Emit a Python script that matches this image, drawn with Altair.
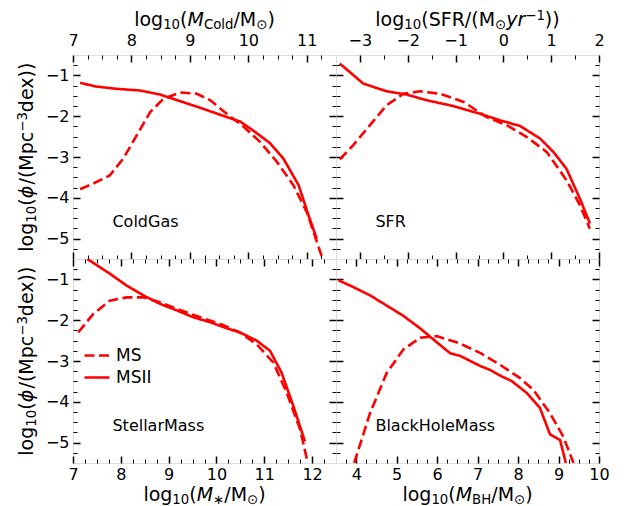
import numpy as np
import pandas as pd
import altair as alt

FONT = "DejaVu Sans"
RED = "#ff0000"
W, H = 263, 204
TITLE_FS = 19
TICK_FS = 16
SERIES = ["MS", "MSII"]

# ---------------- data ----------------
cold_ms_x = [7.12, 7.35, 7.63, 7.86, 8.09, 8.32, 8.55, 8.83, 9.12, 9.35, 9.63, 9.92, 10.2, 10.49, 10.77, 11.0, 11.26]
cold_ms_y = [-3.79, -3.65, -3.45, -3.04, -2.47, -1.90, -1.57, -1.42, -1.45, -1.61, -1.94, -2.26, -2.63, -3.12, -3.69, -4.35, -5.45]
cold_msii_x = [7.12, 7.38, 7.75, 8.15, 8.49, 8.83, 9.23, 9.63, 9.86, 10.12, 10.37, 10.6, 10.86, 11.03, 11.17]
cold_msii_y = [-1.18, -1.27, -1.33, -1.37, -1.47, -1.63, -1.82, -2.02, -2.13, -2.39, -2.66, -3.04, -3.69, -4.43, -5.0]

sfr_ms_x = [-3.42, -3.14, -2.79, -2.44, -2.09, -1.74, -1.32, -0.83, -0.35, 0.07, 0.49, 0.91, 1.32, 1.60, 1.81]
sfr_ms_y = [-3.06, -2.71, -2.22, -1.73, -1.45, -1.39, -1.45, -1.65, -2.02, -2.22, -2.51, -2.88, -3.57, -4.18, -4.76]
sfr_msii_x = [-3.42, -2.93, -2.44, -2.02, -1.60, -1.05, -0.49, -0.07, 0.35, 0.77, 1.05, 1.32, 1.60, 1.81]
sfr_msii_y = [-0.71, -1.20, -1.39, -1.47, -1.61, -1.75, -1.94, -2.10, -2.24, -2.55, -2.88, -3.29, -4.02, -4.63]

star_ms_x = [7.11, 7.42, 7.77, 8.12, 8.47, 8.82, 9.17, 9.66, 10.08, 10.49, 10.84, 11.19, 11.47, 11.75, 11.91]
star_ms_y = [-2.30, -1.85, -1.52, -1.44, -1.44, -1.56, -1.72, -1.93, -2.09, -2.30, -2.59, -3.04, -3.78, -4.68, -5.5]
star_msii_x = [7.30, 7.77, 8.12, 8.47, 8.82, 9.17, 9.52, 9.87, 10.22, 10.49, 10.84, 11.12, 11.36, 11.61, 11.85]
star_msii_y = [-0.5, -0.86, -1.15, -1.39, -1.60, -1.76, -1.93, -2.05, -2.20, -2.30, -2.50, -2.75, -3.28, -4.11, -4.97]

bh_ms_x = [3.95, 4.34, 4.75, 5.16, 5.58, 5.99, 6.56, 7.06, 7.55, 8.05, 8.38, 8.79, 9.12, 9.37]
bh_ms_y = [-5.5, -4.28, -3.30, -2.72, -2.43, -2.39, -2.57, -2.80, -3.09, -3.42, -3.71, -4.28, -4.86, -5.5]
bh_msii_x = [3.56, 3.93, 4.34, 4.75, 5.16, 5.58, 5.99, 6.32, 6.56, 7.06, 7.31, 7.60, 7.84, 8.21, 8.54, 8.79, 9.04, 9.18]
bh_msii_y = [-1.02, -1.19, -1.39, -1.64, -1.89, -2.20, -2.54, -2.81, -2.87, -3.12, -3.22, -3.38, -3.49, -3.78, -4.15, -4.80, -4.94, -5.5]

panel_names = ["ColdGas", "SFR", "StellarMass", "BlackHoleMass"]
x_domains = [[7, 11.5], [-3.5, 2], [7, 12.5], [3.5, 10]]
x_minor_steps = [0.25, 0.5, 0.25, 0.25]
y_domain = [-5.5, -0.5]
y_major = [-5, -4, -3, -2, -1]

# ---------------- text layout helpers ----------------
WID = {"l": .278, "o": .612, "g": .635, "0": .636, "1": .636, "3": .636, "(": .390, ")": .390,
       "/": .337, "M": .863, "C": .698, "d": .635, "S": .635, "F": .575, "R": .695, "y": .592,
       "r": .411, "B": .686, "H": .752, "p": .635, "c": .550, "e": .615, "x": .592,
       "\u2212": .838, "\u2299": .838, "\u2217": .838, "\u03d5": .73}

one = pd.DataFrame({"k": [0]})


def title_layers(segs, ax, ay, angle=0, size=TITLE_FS):
    items, off = [], 0.0
    for t, kind in segs:
        small = kind.startswith("sub") or kind.startswith("sup")
        fs = size * 0.7 if small else size
        items.append((t, kind, fs, off))
        off += sum(WID.get(c, .6) for c in t) * fs
    total = off
    out = []
    for t, kind, fs, o in items:
        dy = 0.16 * size if kind.startswith("sub") else (-0.3 * size if kind.startswith("sup") else 0)
        italic = kind.endswith("i")
        out.append(
            alt.Chart(one).mark_text(
                text=t, align="left", baseline="alphabetic", font=FONT, fontSize=fs,
                fontStyle="italic" if italic else "normal", color="black",
                dx=o - total / 2, dy=dy, angle=angle,
            ).encode(x=alt.value(ax), y=alt.value(ay))
        )
    return out


def minor(lo, hi, step):
    vals = np.round(np.arange(lo, hi + 1e-9, step), 4)
    return [float(v) for v in vals if abs(v - round(v)) > 1e-6 and lo < v < hi]


def axis(orient, values, size, width, labels=False, pad=0):
    kw = dict(orient=orient, values=values, tickSize=size, tickWidth=width, tickColor="black",
              offset=-size, domain=False, grid=False, labels=labels, ticks=True)
    if labels:
        kw.update(labelFontSize=TICK_FS, labelFont=FONT, labelColor="black", labelPadding=pad,
                  labelFlush=False, labelOverlap=False)
    return alt.Axis(**kw)


legend = alt.Legend(title=None, orient="none", legendX=10, legendY=286.5, symbolType="stroke",
                    symbolStrokeColor=RED, symbolStrokeWidth=2.6, symbolSize=625,
                    labelFontSize=17, labelFont=FONT, labelColor="black", labelOffset=5,
                    rowPadding=-4, padding=0)

Y_TITLE = [("log", "n"), ("10", "sub"), ("(", "n"), ("\u03d5", "i"), ("/(Mpc", "n"),
           ("\u22123", "sup"), ("dex))", "n")]
X_TITLES = [
    [("log", "n"), ("10", "sub"), ("(", "n"), ("M", "i"), ("Cold", "sub"), ("/M", "n"), ("\u2299", "sub"), (")", "n")],
    [("log", "n"), ("10", "sub"), ("(SFR/(M", "n"), ("\u2299", "sub"), ("yr", "i"), ("\u22121", "sup"), ("))", "n")],
    [("log", "n"), ("10", "sub"), ("(", "n"), ("M", "i"), ("\u2217", "sub"), ("/M", "n"), ("\u2299", "sub"), (")", "n")],
    [("log", "n"), ("10", "sub"), ("(", "n"), ("M", "i"), ("BH", "sub"), ("/M", "n"), ("\u2299", "sub"), (")", "n")],
]


def panel(idx, ms_x, ms_y, msii_x, msii_y):
    top = idx < 2
    left = idx % 2 == 0
    xdom = x_domains[idx]
    xmaj = list(range(int(np.ceil(xdom[0])), int(np.floor(xdom[1])) + 1))
    xmin = minor(xdom[0], xdom[1], x_minor_steps[idx])
    ymin = minor(y_domain[0], y_domain[1], 0.25)
    df = pd.concat([
        pd.DataFrame({"x": ms_x, "y": ms_y, "run": "MS", "i": range(len(ms_x))}),
        pd.DataFrame({"x": msii_x, "y": msii_y, "run": "MSII", "i": range(len(msii_x))}),
    ], ignore_index=True)
    xs = alt.Scale(domain=xdom, nice=False, zero=False)
    ys = alt.Scale(domain=y_domain, nice=False, zero=False)
    base = alt.Chart(df)
    lines = base.mark_line(clip=True, strokeWidth=2.6, color=RED).encode(
        x=alt.X("x:Q", scale=xs, title=None, axis=axis("bottom", xmaj, 7, 1.5, not top, 3)),
        y=alt.Y("y:Q", scale=ys, title=None, axis=axis("left", y_major, 7, 1.5, left, 4)),
        strokeDash=alt.StrokeDash("run:N", scale=alt.Scale(domain=SERIES, range=[[10, 4.5], [1, 0]]),
                                  legend=legend),
        order="i:Q",
    )
    l2 = base.mark_line(opacity=0, clip=True).encode(
        x=alt.X("x:Q", scale=xs, title=None, axis=axis("bottom", xmin, 4, 1)),
        y=alt.Y("y:Q", scale=ys, title=None, axis=axis("left", ymin, 4, 1)),
        detail="run:N",
    )
    l3 = base.mark_line(opacity=0, clip=True).encode(
        x=alt.X("x:Q", scale=xs, title=None, axis=axis("top", xmaj, 7, 1.5, top, 7)),
        y=alt.Y("y:Q", scale=ys, title=None, axis=axis("right", y_major, 7, 1.5)),
        detail="run:N",
    )
    l4 = base.mark_line(opacity=0, clip=True).encode(
        x=alt.X("x:Q", scale=xs, title=None, axis=axis("top", xmin, 4, 1)),
        y=alt.Y("y:Q", scale=ys, title=None, axis=axis("right", ymin, 4, 1)),
        detail="run:N",
    )
    label = alt.Chart(one).mark_text(
        text=panel_names[idx], align="left", baseline="middle", font=FONT, fontSize=16, color="black"
    ).encode(x=alt.value(0.15 * W), y=alt.value(0.82 * H))
    texts = [label]
    if top:
        texts += title_layers(X_TITLES[idx], W / 2, -29)
    else:
        texts += title_layers(X_TITLES[idx], W / 2, H + 38)
    if left:
        texts += title_layers(Y_TITLE, -40, H / 2, angle=270)
    return alt.layer(lines, l2, l3, l4, *texts).resolve_axis(
        x="independent", y="independent").properties(width=W, height=H)


p0 = panel(0, cold_ms_x, cold_ms_y, cold_msii_x, cold_msii_y)
p1 = panel(1, sfr_ms_x, sfr_ms_y, sfr_msii_x, sfr_msii_y)
p2 = panel(2, star_ms_x, star_ms_y, star_msii_x, star_msii_y)
p3 = panel(3, bh_ms_x, bh_ms_y, bh_msii_x, bh_msii_y)

chart = alt.concat(p0, p1, p2, p3, columns=2, spacing=0, bounds="flush").resolve_scale(
    x="independent", y="independent", strokeDash="shared"
).properties(
    padding={"left": 7, "top": 0, "right": 5, "bottom": 1}, background="white"
).configure_view(stroke="black", strokeWidth=2).configure(font=FONT)

chart.save("out.html", embed_options={"renderer": "svg", "actions": False})
